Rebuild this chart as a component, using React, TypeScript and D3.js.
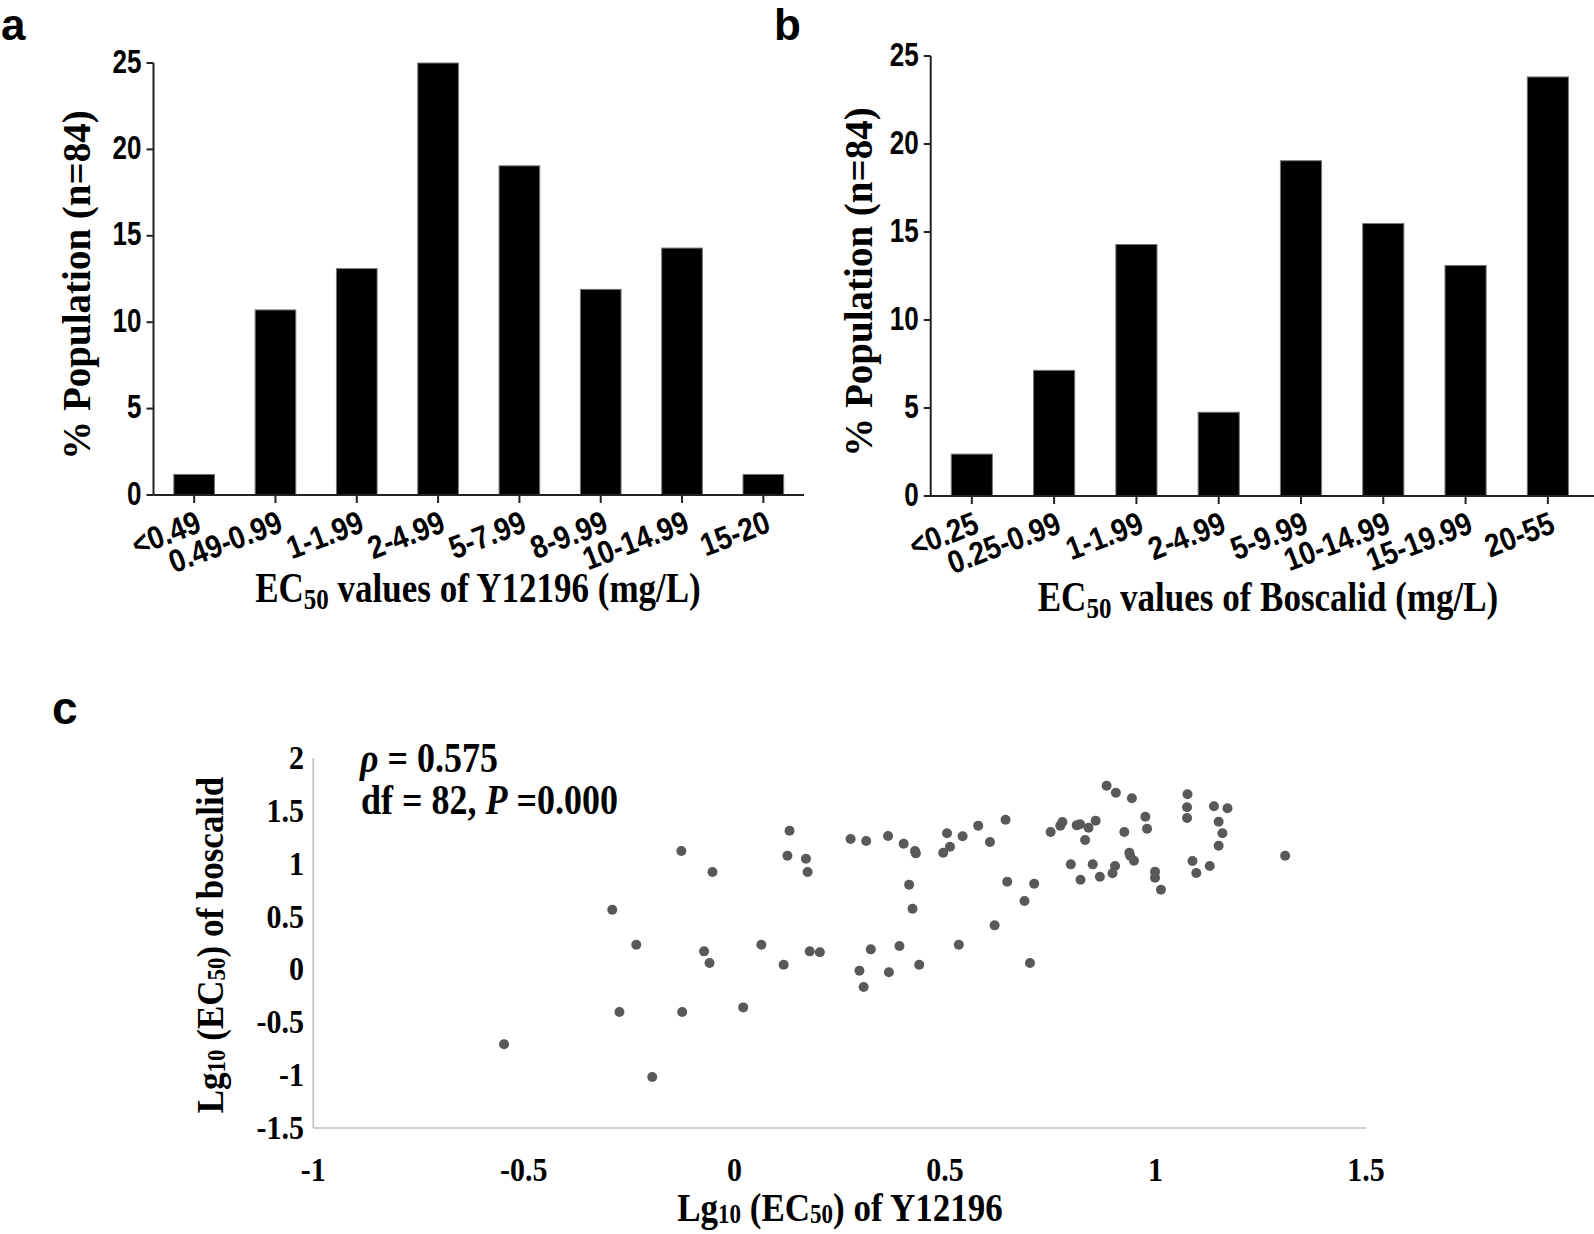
import React from "react";
import * as d3 from "d3";

// panel a: Y12196 distribution
const catsA = ["<0.49", "0.49-0.99", "1-1.99", "2-4.99", "5-7.99", "8-9.99", "10-14.99", "15-20"];
const valsA = [1.19, 10.71, 13.1, 25, 19.05, 11.9, 14.29, 1.19];

// panel b: boscalid distribution
const catsB = ["<0.25", "0.25-0.99", "1-1.99", "2-4.99", "5-9.99", "10-14.99", "15-19.99", "20-55"];
const valsB = [2.38, 7.14, 14.29, 4.76, 19.05, 15.48, 13.1, 23.81];

const barTicks = [0, 5, 10, 15, 20, 25];

// panel c: lg10 EC50 pairs (x = Y12196, y = boscalid)
const lgY12196 = [
  0.884, 0.906, 0.944, 1.076, 1.075, 1.075, 1.139, 1.171, 0.976, 0.98, 1.15, 1.159, 1.15,
  0.751, 0.774, 0.779, 0.813, 0.821, 0.841, 0.858, 0.833, 0.926, 0.938, 0.94, 0.949, 1.088,
  1.129, 1.097, 0.799, 0.851, 0.904, 0.898, 0.868, 0.822, 0.999, 0.999, 1.013, 0.712, 1.308,
  0.276, 0.313, 0.365, 0.402, 0.429, 0.431, 0.505, 0.542, 0.512, 0.496, 0.579, 0.607, 0.644,
  0.415, 0.423, 0.648, 0.689, 0.618, 0.533, 0.702, 0.324, 0.392, 0.297, 0.367, 0.439, 0.307,
  0.131, -0.126, 0.126, 0.17, 0.174, -0.052, -0.29, -0.233, -0.072, -0.059, 0.064, 0.117,
  0.179, 0.203, -0.273, -0.124, 0.021, -0.195, -0.547,
];
const lgBoscalid = [
  1.738, 1.672, 1.619, 1.657, 1.534, 1.432, 1.543, 1.524, 1.445, 1.331, 1.397, 1.288, 1.17,
  1.3, 1.36, 1.395, 1.363, 1.373, 1.341, 1.407, 1.224, 1.3, 1.104, 1.076, 1.028, 1.026,
  0.978, 0.912, 0.994, 0.994, 0.978, 0.909, 0.877, 0.849, 0.924, 0.868, 0.754, 0.811, 1.076,
  1.234, 1.215, 1.262, 1.189, 1.12, 1.098, 1.288, 1.259, 1.161, 1.104, 1.36, 1.205, 1.416,
  0.801, 0.574, 0.83, 0.647, 0.417, 0.234, 0.061, 0.19, 0.221, -0.012, -0.027, 0.044, -0.167,
  1.312, 1.12, 1.076, 1.047, 0.921, 0.921, 0.565, 0.234, 0.171, 0.061, 0.234, 0.044,
  0.171, 0.162, -0.403, -0.403, -0.359, -1.018, -0.707,
];
const scatterXTicks = [-1, -0.5, 0, 0.5, 1, 1.5];
const scatterYTicks = [-1.5, -1, -0.5, 0, 0.5, 1, 1.5, 2];

const sans = "'Liberation Sans', Arial, sans-serif";
const serif = "'Liberation Serif', 'Times New Roman', serif";

// text that is a bit taller than wide, like the figure's
function T({ x, y, rot = 0, sy = 1, children, ...rest }) {
  return (
    <text transform={`translate(${x},${y}) rotate(${rot}) scale(1,${sy})`} {...rest}>
      {children}
    </text>
  );
}

function BarPanel({ cats, vals, x0, x1, axisEnd, y0, y25, title, titleX, titleY, yTitleX }) {
  const x = d3.scaleBand().domain(cats).range([x0, x1]).paddingInner(0.5).paddingOuter(0.25);
  const y = d3.scaleLinear().domain([0, 25]).range([y0, y25]);
  return (
    <g>
      {cats.map((c, i) => (
        <rect
          key={c}
          x={x(c)}
          y={y(vals[i])}
          width={x.bandwidth()}
          height={y(0) - y(vals[i])}
          fill="#000"
          stroke="#777"
          strokeWidth={1}
        />
      ))}
      <line x1={x0} x2={x0} y1={y(25)} y2={y(0)} stroke="#222" strokeWidth={2} />
      <line x1={x0} x2={axisEnd} y1={y(0)} y2={y(0)} stroke="#222" strokeWidth={2} />
      {barTicks.map((t) => (
        <g key={t}>
          <line x1={x0 - 7} x2={x0} y1={y(t)} y2={y(t)} stroke="#222" strokeWidth={2} />
          <T
            x={x0 - 12}
            y={y(t) + 9.5}
            sy={1.3}
            textAnchor="end"
            fontFamily={sans}
            fontWeight="bold"
            fontSize={26}
          >
            {t}
          </T>
        </g>
      ))}
      {cats.map((c) => {
        const cx = x(c) + x.bandwidth() / 2;
        return (
          <g key={c}>
            <line x1={cx} x2={cx} y1={y(0)} y2={y(0) + 8} stroke="#222" strokeWidth={2} />
            <T
              x={cx + 9}
              y={y(0) + 36}
              rot={-21}
              sy={1.15}
              textAnchor="end"
              fontFamily={sans}
              fontWeight="bold"
              fontSize={28}
            >
              {c}
            </T>
          </g>
        );
      })}
      <T x={titleX} y={titleY} sy={1.22} textAnchor="middle" fontFamily={serif} fontWeight="bold" fontSize={35}>
        EC
        <tspan fontSize={25} dy={6}>50</tspan>
        <tspan dy={-6}>{" values of " + title + " (mg/L)"}</tspan>
      </T>
      <T
        x={yTitleX}
        y={(y(0) + y(25)) / 2 + 6}
        rot={-90}
        textAnchor="middle"
        fontFamily={serif}
        fontWeight="bold"
        fontSize={39}
      >
        % Population (n=84)
      </T>
    </g>
  );
}

function ScatterPanel() {
  const x = d3.scaleLinear().domain([-1, 1.5]).range([313.3, 1366]);
  const y = d3.scaleLinear().domain([-1.5, 2]).range([1128, 758]);
  const pts = lgY12196.map((v, i) => [v, lgBoscalid[i]]);
  return (
    <g>
      <line x1={x(-1)} x2={x(-1)} y1={y(2)} y2={y(-1.5)} stroke="#bfbfbf" strokeWidth={1.6} />
      <line x1={x(-1)} x2={x(1.5)} y1={y(-1.5)} y2={y(-1.5)} stroke="#bfbfbf" strokeWidth={1.6} />
      {scatterYTicks.map((t) => (
        <T
          key={t}
          x={304}
          y={y(t) + 11}
          sy={1.15}
          textAnchor="end"
          fontFamily={serif}
          fontWeight="bold"
          fontSize={30}
        >
          {t}
        </T>
      ))}
      {scatterXTicks.map((t) => (
        <T
          key={t}
          x={x(t)}
          y={1181}
          sy={1.15}
          textAnchor="middle"
          fontFamily={serif}
          fontWeight="bold"
          fontSize={30}
        >
          {t}
        </T>
      ))}
      {pts.map((p, i) => (
        <circle key={i} cx={x(p[0])} cy={y(p[1])} r={5} fill="#595959" />
      ))}
      <T x={360} y={772} sy={1.15} fontFamily={serif} fontWeight="bold" fontSize={36}>
        <tspan fontStyle="italic">ρ</tspan> = 0.575
      </T>
      <T x={361} y={814} sy={1.15} fontFamily={serif} fontWeight="bold" fontSize={36}>
        df = 82, <tspan fontStyle="italic">P</tspan> =0.000
      </T>
      <T
        x={223}
        y={(y(2) + y(-1.5)) / 2 + 2}
        rot={-90}
        sy={1.08}
        textAnchor="middle"
        fontFamily={serif}
        fontWeight="bold"
        fontSize={35}
      >
        Lg<tspan fontSize={23} dy={2}>10</tspan>
        <tspan dy={-2}> (EC</tspan>
        <tspan fontSize={23} dy={2}>50</tspan>
        <tspan dy={-2}>) of boscalid</tspan>
      </T>
      <T x={840} y={1221} sy={1.15} textAnchor="middle" fontFamily={serif} fontWeight="bold" fontSize={35}>
        Lg<tspan fontSize={23} dy={2}>10</tspan>
        <tspan dy={-2}> (EC</tspan>
        <tspan fontSize={23} dy={2}>50</tspan>
        <tspan dy={-2}>) of Y12196</tspan>
      </T>
    </g>
  );
}

export default function App() {
  return (
    <svg
      width={1594}
      height={1234}
      viewBox="0 0 1594 1234"
      style={{ position: "absolute", left: 0, top: 0, background: "#fff" }}
    >
      <rect width={1594} height={1234} fill="#fff" />
      <text x={1} y={40} fontFamily={sans} fontWeight="bold" fontSize={44}>a</text>
      <text x={774} y={40} fontFamily={sans} fontWeight="bold" fontSize={44}>b</text>
      <text x={52} y={724} fontFamily={sans} fontWeight="bold" fontSize={46}>c</text>
      <BarPanel
        cats={catsA}
        vals={valsA}
        x0={153.5}
        x1={804}
        axisEnd={804}
        y0={495}
        y25={63}
        title="Y12196"
        titleX={478}
        titleY={602}
        yTitleX={90}
      />
      <BarPanel
        cats={catsB}
        vals={valsB}
        x0={930.7}
        x1={1589}
        axisEnd={1594}
        y0={496}
        y25={56}
        title="Boscalid"
        titleX={1268}
        titleY={611}
        yTitleX={872}
      />
      <ScatterPanel />
    </svg>
  );
}
